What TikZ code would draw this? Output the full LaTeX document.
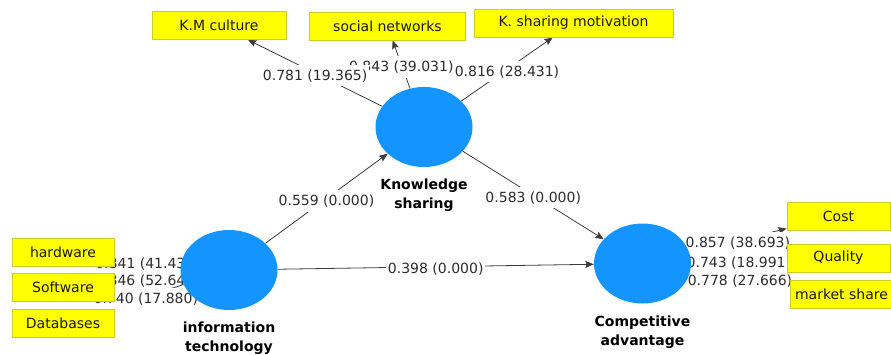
\documentclass[tikz,border=0pt]{standalone}
\usepackage{fontspec}
\setmainfont{DejaVu Sans}
\usetikzlibrary{shapes.geometric,arrows.meta,backgrounds}
\definecolor{lvblue}{RGB}{20,148,255}
\definecolor{boxyellow}{RGB}{255,255,0}
\definecolor{boxedge}{RGB}{205,205,40}
\definecolor{linkgrey}{RGB}{60,60,60}
\definecolor{coefgrey}{RGB}{45,45,45}

\begin{document}
\begin{tikzpicture}[x=1pt,y=-1pt,
  latent/.style={ellipse,fill=lvblue,draw=none,minimum width=97pt,minimum height=80pt,inner sep=0pt},
  lvname/.style={font=\bfseries\fontsize{14pt}{19pt}\selectfont,align=center,anchor=north,inner sep=0pt,text=black},
  indicator/.style={rectangle,fill=boxyellow,draw=boxedge,line width=0.8pt,
    font=\fontsize{14pt}{17pt}\selectfont,text=black!90,inner sep=0pt},
  link/.style={draw=linkgrey,line width=0.8pt,-{Stealth[length=8.5pt,width=7pt,inset=1.5pt]}},
  coef/.style={midway,yshift=-2.5pt,fill=white,inner xsep=1.5pt,inner ysep=4.5pt,
    font=\fontsize{14pt}{17pt}\selectfont,text=coefgrey}
]
\useasboundingbox (0,0) rectangle (891,354);

% latent variables
\node[latent] (ks) at (424,127) {};
\node[latent] (it) at (229,270) {};
\node[latent] (ca) at (642.5,263.5) {};

\node[lvname] (ksname) at (424,178.7) {Knowledge\\sharing};
\node[lvname] (itname) at (229,321.4) {information\\technology};
\node[lvname] (caname) at (642.5,316) {Competitive\\advantage};

% indicators of knowledge sharing
\node[indicator,minimum width=134pt,minimum height=28pt] (kmc) at (219,25.5) {K.M culture};
\node[indicator,minimum width=156pt,minimum height=27.5pt] (soc) at (387.5,26.3) {social networks};
\node[indicator,minimum width=199pt,minimum height=28pt] (ksm) at (573.5,23) {K. sharing motivation};

% indicators of information technology
\node[indicator,minimum width=102pt,minimum height=28pt] (hw) at (63,252) {hardware};
\node[indicator,minimum width=102pt,minimum height=28pt] (sw) at (63,287.5) {Software};
\node[indicator,minimum width=102pt,minimum height=28pt] (db) at (63,323) {Databases};

% indicators of competitive advantage
\node[indicator,minimum width=103pt,minimum height=28pt] (cost) at (838.5,216) {Cost};
\node[indicator,minimum width=103pt,minimum height=28pt] (qual) at (838.5,258) {Quality};
\node[indicator,minimum width=103pt,minimum height=28pt] (mshare) at (841.5,294) {market share};

\begin{pgfonlayer}{background}
  % outer loadings of knowledge sharing
  \draw[link] (ks) -- (ksm) node[coef] {0.816 (28.431)};
  \draw[link] (ks) -- (soc) node[coef] {0.843 (39.031)};
  \draw[link] (ks) -- (kmc) node[coef] {0.781 (19.365)};
  % outer loadings of information technology
  \draw[link] (it) -- (hw) node[coef] {0.841 (41.432)};
  \draw[link] (it) -- (sw) node[coef] {0.846 (52.641)};
  \draw[link] (it) -- (db) node[coef] {0.740 (17.880)};
  % outer loadings of competitive advantage
  \draw[link] (ca) -- (cost) node[coef] {0.857 (38.693)};
  \draw[link] (ca) -- (qual) node[coef] {0.743 (18.991)};
  \draw[link] (ca) -- (mshare) node[coef] {0.778 (27.666)};
  % structural paths
  \draw[link] (it) -- (ks) node[coef] {0.559 (0.000)};
  \draw[link] (ks) -- (ca) node[coef] {0.583 (0.000)};
  \draw[link] (it) -- (ca) node[coef] {0.398 (0.000)};
\end{pgfonlayer}
\end{tikzpicture}
\end{document}
